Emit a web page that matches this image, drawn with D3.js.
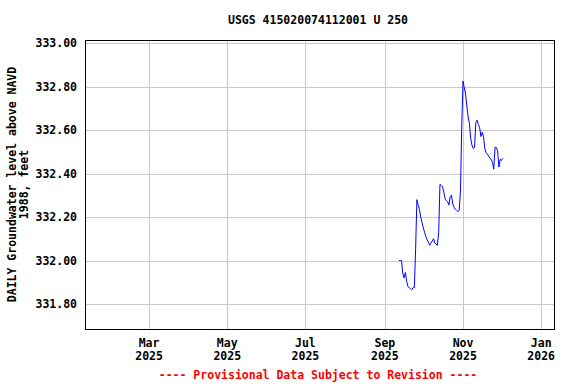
<!DOCTYPE html>
<html>
<head>
<meta charset="utf-8">
<script src="https://cdn.jsdelivr.net/npm/d3@7"></script>
<style>
  html, body { margin: 0; padding: 0; background: #fff; }
  svg text { font-family: "DejaVu Sans Mono", "Liberation Mono", monospace; font-weight: bold; font-size: 11.5px; }
</style>
</head>
<body>
<svg id="chart" width="576" height="384"></svg>
<script>
const title = "USGS 415020074112001 U 250";
const yAxisTitle = ["DAILY Groundwater level above NAVD", "1988, feet"];
const footer = "---- Provisional Data Subject to Revision ----";
const startDate = "2025-09-12";
const levels = [
  332.00, 332.00, 332.00, 331.94, 331.92, 331.945, 331.905, 331.88, 331.875, 331.87,
  331.865, 331.875, 331.875, 332.05, 332.28, 332.255, 332.235, 332.20, 332.175, 332.15,
  332.13, 332.11, 332.095, 332.085, 332.07, 332.08, 332.09, 332.10, 332.08, 332.075,
  332.07, 332.13, 332.35, 332.345, 332.34, 332.315, 332.285, 332.275, 332.27, 332.255,
  332.295, 332.30, 332.26, 332.245, 332.235, 332.23, 332.225, 332.23, 332.32, 332.62,
  332.825, 332.795, 332.765, 332.71, 332.66, 332.63, 332.56, 332.53, 332.515, 332.52,
  332.635, 332.645, 332.625, 332.61, 332.57, 332.59, 332.57, 332.515, 332.495, 332.49,
  332.48, 332.47, 332.465, 332.45, 332.42, 332.52, 332.52, 332.505, 332.43, 332.465,
  332.46, 332.47
];
const yTicks = [331.80, 332.00, 332.20, 332.40, 332.60, 332.80, 333.00];
const xTickDates = ["2025-03-01", "2025-05-01", "2025-07-01", "2025-09-01", "2025-11-01", "2026-01-01"];
const xTickLabels = [["Mar", "2025"], ["May", "2025"], ["Jul", "2025"], ["Sep", "2025"], ["Nov", "2025"], ["Jan", "2026"]];
const xDomain = ["2025-01-10", "2026-01-11"];
const yDomain = [331.685, 333.014];

const parse = d3.utcParse("%Y-%m-%d");
const start = parse(startDate);
const data = levels.map((v, i) => ({ date: d3.utcDay.offset(start, i), value: v }));

const svg = d3.select("#chart");
const L = 85, R = 554, T = 40, B = 329;
const x = d3.scaleUtc().domain(xDomain.map(parse)).range([L, R]);
const y = d3.scaleLinear().domain(yDomain).range([B, T]);

// gridlines
svg.append("g").selectAll("line.h").data(yTicks).join("line")
  .attr("x1", L).attr("x2", R)
  .attr("y1", d => Math.round(y(d)) + 0.5).attr("y2", d => Math.round(y(d)) + 0.5)
  .attr("stroke", "#c8c8c8").attr("stroke-width", 1);
svg.append("g").selectAll("line.v").data(xTickDates.map(parse)).join("line")
  .attr("y1", T).attr("y2", B)
  .attr("x1", d => Math.round(x(d)) + 0.5).attr("x2", d => Math.round(x(d)) + 0.5)
  .attr("stroke", "#c8c8c8").attr("stroke-width", 1);

// y tick labels
svg.append("g").selectAll("text").data(yTicks).join("text")
  .attr("x", 77).attr("y", d => y(d) + 4)
  .attr("text-anchor", "end")
  .text(d => d3.format(".2f")(d));

// x tick labels
const xt = svg.append("g").selectAll("text").data(xTickDates.map(parse)).join("text")
  .attr("text-anchor", "middle")
  .attr("transform", d => `translate(${x(d)},0)`);
xt.append("tspan").attr("x", 0).attr("y", 347).text((d, i) => xTickLabels[i][0]);
xt.append("tspan").attr("x", 0).attr("y", 360).text((d, i) => xTickLabels[i][1]);

// data line
const line = d3.line().x(d => x(d.date)).y(d => y(d.value));
svg.append("path").datum(data)
  .attr("d", line)
  .attr("fill", "none").attr("stroke", "#0000ff").attr("stroke-width", 1);

// frame
svg.append("rect").attr("x", L + 0.5).attr("y", T + 0.5)
  .attr("width", R - L).attr("height", B - T)
  .attr("fill", "none").attr("stroke", "#000").attr("stroke-width", 1);

// title
svg.append("text").attr("x", 318).attr("y", 24).attr("text-anchor", "middle").text(title);

// y axis title
const yt = svg.append("text").attr("text-anchor", "middle")
  .attr("transform", `translate(0,${(T + B) / 2}) rotate(-90)`);
yt.append("tspan").attr("x", 0).attr("y", 16).text(yAxisTitle[0]);
yt.append("tspan").attr("x", 0).attr("y", 28).text(yAxisTitle[1]);

// footer
svg.append("text").attr("x", 318).attr("y", 379).attr("text-anchor", "middle")
  .attr("fill", "#ff0000").text(footer);
</script>
</body>
</html>
